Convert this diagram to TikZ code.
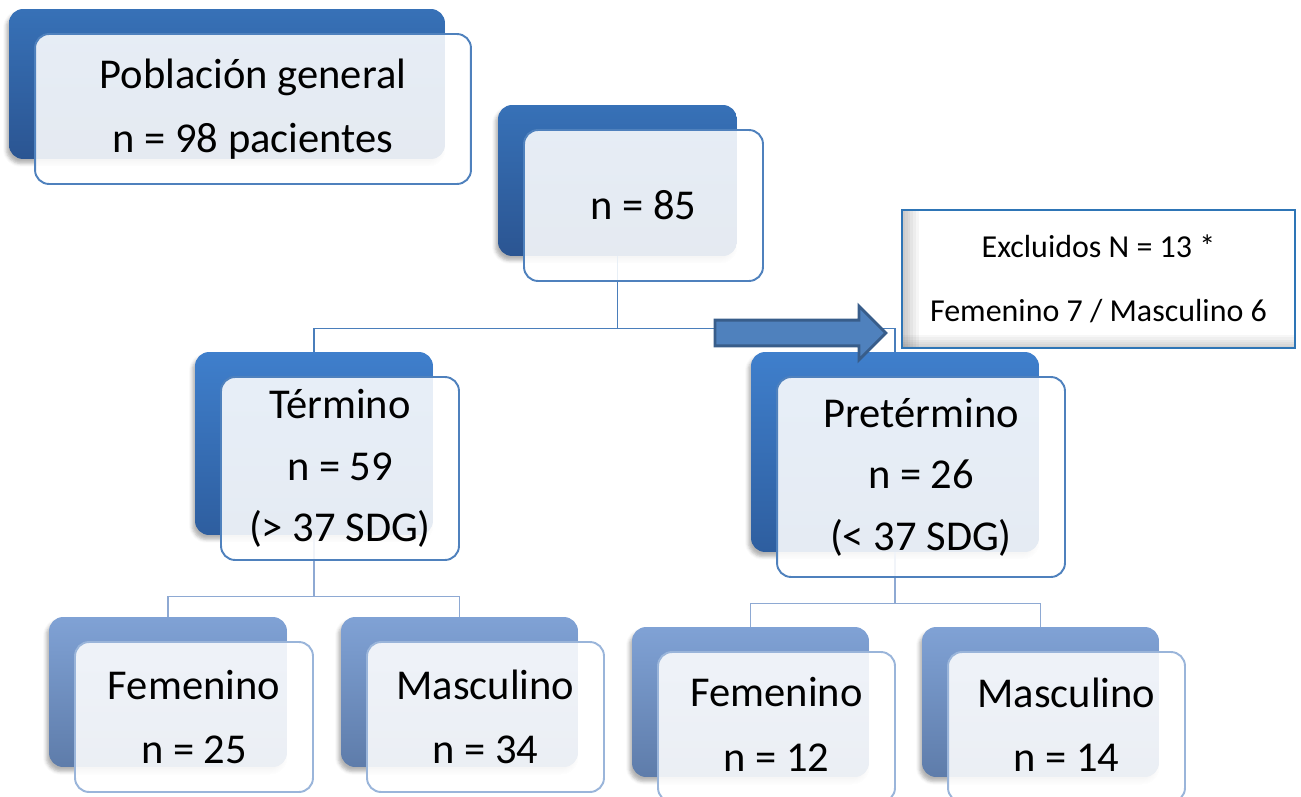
\documentclass[tikz,border=0pt]{standalone}
\usepackage{fontspec}
\setmainfont{Carlito}
\usepackage{tikz}
\usetikzlibrary{positioning,calc,backgrounds,shapes.arrows,shadows.blur}

\definecolor{topA}{HTML}{3771B7}
\definecolor{botA}{HTML}{2B5592}
\definecolor{topB}{HTML}{3F7FCC}
\definecolor{botB}{HTML}{2E5E9F}
\definecolor{topC}{HTML}{80A2D5}
\definecolor{botC}{HTML}{5E7CAA}
\definecolor{frontLine}{HTML}{4F81BD}
\definecolor{subLine}{HTML}{9AB5DA}
\definecolor{linkA}{HTML}{4A7EBB}
\definecolor{linkB}{HTML}{8EA9D3}
\definecolor{arrowFill}{HTML}{4F81BD}
\definecolor{arrowLine}{HTML}{385D8A}
\definecolor{exLine}{HTML}{2E75B6}

\begin{document}
\begin{tikzpicture}[
  x=0.02cm, y=-0.02cm,
  every node/.style={font=\fontsize{24.2}{36.5}\selectfont},
  sz/.style 2 args={minimum width=#1, minimum height=#2},
  front/.style={draw=frontLine, line width=1.1pt, rounded corners=8pt, fill=white, fill opacity=0.88, text opacity=1, align=center, inner sep=0pt},
  frontsub/.style={front, draw=subLine},
  tri/.style={font=\fontsize{24.2}{35}\selectfont},
  back/.style={rounded corners=8pt, inner sep=0pt, blur shadow={shadow xshift=-1.5pt, shadow yshift=-2.5pt, shadow opacity=30}},
  backA/.style={back, top color=topA, bottom color=botA},
  backB/.style={back, top color=topB, bottom color=botB},
  backC/.style={back, top color=topC, bottom color=botC},
  excl/.style={draw=exLine, line width=1.3pt, fill=white, align=center, inner sep=0pt, font=\fontsize{18.2}{36.3}\selectfont,
    path picture={
      \foreach \k in {1,...,6} {
        \fill[black, opacity=0.035] (path picture bounding box.south west) rectangle ([xshift=\k*1.6pt]path picture bounding box.north west);
        \fill[black, opacity=0.03] (path picture bounding box.south west) rectangle ([yshift=\k*1.2pt]path picture bounding box.south east);
      }
    }},
  fatarrow/.style={single arrow, draw=arrowLine, line width=1.6pt, fill=arrowFill, minimum height=3.42cm, minimum width=1.02cm, single arrow head extend=0.28cm, inner xsep=0pt, inner ysep=0.23cm},
  link/.style={draw=linkA, line width=0.9pt},
  sublink/.style={draw=linkB, line width=0.9pt},
]
\useasboundingbox (0,0) rectangle (1301,797);

\node[front, sz={8.72cm}{3cm}] (pob) at (253,109) {Población general\\n = 98 pacientes};
\node[front, sz={4.78cm}{3.02cm}] (n85) at (643.5,205.5) {n = 85};
\node[front, tri, sz={4.76cm}{3.66cm}] (ter) at (340,468.5) {Término\\n = 59\\(> 37 SDG)};
\node[front, tri, sz={5.76cm}{4cm}] (pre) at (921,477) {Pretérmino\\n = 26\\(< 37 SDG)};
\node[frontsub, sz={4.76cm}{3cm}] (terF) at (194,717) {Femenino\\n = 25};
\node[frontsub, sz={4.74cm}{3cm}] (terM) at (485.5,717) {Masculino\\n = 34};
\node[frontsub, sz={4.74cm}{3cm}] (preF) at (776.5,727) {\raisebox{3pt}{Femenino}\\\raisebox{3pt}{n = 12}};
\node[frontsub, sz={4.74cm}{3cm}] (preM) at (1066.5,727) {\raisebox{3pt}{Masculino}\\\raisebox{3pt}{n = 14}};
\node[excl, sz={7.86cm}{2.76cm}] (exc) at (1098.5,279) {Excluidos N = 13 *\\Femenino 7 / Masculino 6};
\node[fatarrow] (excArrow) at (794,333) {};

\begin{scope}[on background layer]
\node[backA, sz={8.72cm}{3cm}] (pobB) at ($(pob)+(-26,-25)$) {};
\node[backA, sz={4.78cm}{3.02cm}] (n85B) at ($(n85)+(-26,-25)$) {};
\node[backB, sz={4.76cm}{3.66cm}] (terB) at ($(ter)+(-26,-25)$) {};
\node[backB, sz={5.76cm}{4cm}] (preB) at ($(pre)+(-26,-25)$) {};
\node[backC, sz={4.76cm}{3cm}] (terFB) at ($(terF)+(-26,-25)$) {};
\node[backC, sz={4.74cm}{3cm}] (terMB) at ($(terM)+(-26,-25)$) {};
\node[backC, sz={4.74cm}{3cm}] (preFB) at ($(preF)+(-26,-25)$) {};
\node[backC, sz={4.74cm}{3cm}] (preMB) at ($(preM)+(-26,-25)$) {};
\draw[link] (n85B.south) -- ++(0,72) coordinate (j1) -| (terB.north);
\draw[link] (j1) -| (preB.north);
\draw[sublink] (terB.south) -- ++(0,61) coordinate (j2) -| (terFB.north);
\draw[sublink] (j2) -| (terMB.north);
\draw[sublink] (preB.south) -- ++(0,51) coordinate (j3) -| (preFB.north);
\draw[sublink] (j3) -| (preMB.north);
\end{scope}
\end{tikzpicture}
\end{document}
